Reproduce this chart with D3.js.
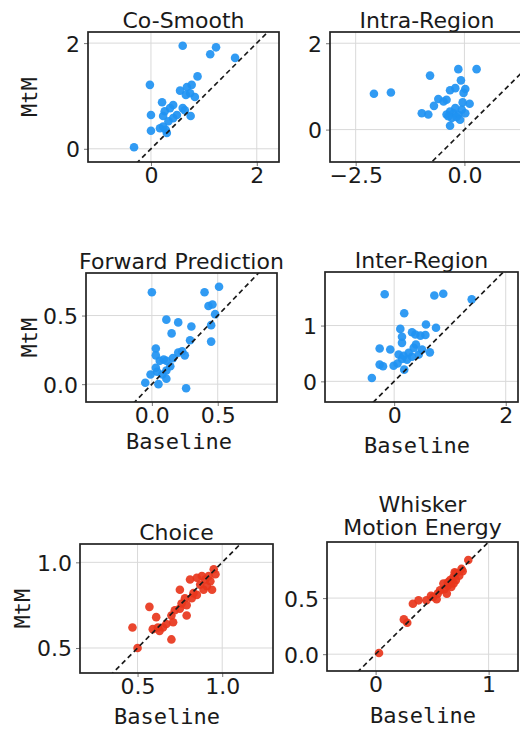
<!DOCTYPE html>
<html>
<head>
<meta charset="utf-8">
<script src="https://cdn.jsdelivr.net/npm/d3@7"></script>
<style>
  body { margin: 0; background: #fff; }
  svg text { fill: #1a1a1a; }
</style>
</head>
<body>
<div id="chart"></div>
<script>
// ---- data ----
const coSmoothBaseline = [0.60, 1.23, 1.12, 1.59, -0.02, 0.88, 0.55, 0.68, 0.77, 0.74, 0.83, 0.66, 0.21, 0.42, 0.36, 0.26, 0.00, 0.23, 0.60, 0.64, 0.75, 0.49, 0.42, 0.33, 0.23, 0.17, 0.28, 0.00, 0.30, -0.32];
const coSmoothMtM      = [1.95, 1.92, 1.79, 1.72, 1.21, 1.37, 1.10, 1.17, 1.21, 1.05, 0.98, 1.02, 0.88, 0.83, 0.77, 0.71, 0.64, 0.62, 0.77, 0.73, 0.62, 0.64, 0.58, 0.52, 0.42, 0.39, 0.36, 0.34, 0.30, 0.03];

const intraBaseline = [-2.08, -1.69, -0.79, -0.14, 0.28, -0.08, -0.21, -0.33, 0.02, -0.02, -0.60, -0.48, -0.70, -0.41, -0.04, 0.12, -0.98, -0.83, -0.33, -0.41, -0.25, -0.14, -0.06, 0.02, -0.29, -0.18, -0.10, -0.33, -0.37, -0.21];
const intraMtM      = [0.83, 0.86, 1.25, 1.40, 1.40, 1.14, 0.96, 0.91, 0.94, 0.85, 0.71, 0.65, 0.55, 0.69, 0.63, 0.60, 0.38, 0.35, 0.42, 0.35, 0.38, 0.35, 0.46, 0.38, 0.27, 0.29, 0.23, 0.09, 0.31, 0.50];

const forwardBaseline = [0.00, 0.40, 0.51, 0.43, 0.46, 0.48, 0.45, 0.45, 0.11, 0.20, 0.30, 0.15, 0.29, 0.03, 0.03, 0.06, 0.09, 0.11, 0.16, 0.20, 0.23, 0.25, 0.03, 0.04, 0.11, 0.14, -0.01, -0.05, 0.05, 0.11, 0.26, 0.08];
const forwardMtM      = [0.67, 0.67, 0.71, 0.57, 0.58, 0.51, 0.43, 0.31, 0.47, 0.45, 0.42, 0.37, 0.32, 0.26, 0.21, 0.17, 0.18, 0.17, 0.19, 0.23, 0.24, 0.21, 0.12, 0.09, 0.10, 0.13, 0.07, 0.01, 0.00, 0.04, -0.03, 0.07];

const interBaseline = [-0.17, 0.72, 0.88, 1.39, 0.18, 0.57, 0.75, 0.11, 0.32, 0.38, 0.47, 0.56, 0.14, 0.14, 0.39, -0.26, -0.07, 0.50, 0.64, 0.08, 0.17, 0.26, 0.32, 0.23, 0.14, 0.06, -0.01, -0.26, -0.20, 0.18, -0.40, 0.35, 0.44];
const interMtM      = [1.56, 1.54, 1.57, 1.47, 1.22, 1.02, 0.96, 0.94, 0.88, 0.84, 0.82, 0.83, 0.80, 0.69, 0.66, 0.59, 0.57, 0.57, 0.52, 0.48, 0.46, 0.51, 0.44, 0.39, 0.40, 0.32, 0.28, 0.30, 0.27, 0.21, 0.06, 0.60, 0.48];

const choiceBaseline = [0.50, 0.70, 0.47, 0.57, 0.61, 0.59, 0.62, 0.65, 0.63, 0.71, 0.70, 0.72, 0.75, 0.75, 0.79, 0.76, 0.79, 0.82, 0.85, 0.81, 0.85, 0.88, 0.90, 0.87, 0.91, 0.93, 0.95, 0.96, 0.94, 0.89, 0.78, 0.67, 0.83, 0.92];
const choiceMtM      = [0.50, 0.55, 0.62, 0.74, 0.68, 0.61, 0.62, 0.62, 0.60, 0.65, 0.69, 0.72, 0.73, 0.84, 0.69, 0.76, 0.75, 0.79, 0.81, 0.90, 0.91, 0.92, 0.90, 0.87, 0.86, 0.89, 0.96, 0.93, 0.84, 0.84, 0.79, 0.64, 0.82, 0.92];

const whiskerBaseline = [0.03, 0.25, 0.28, 0.33, 0.38, 0.45, 0.51, 0.55, 0.57, 0.61, 0.64, 0.66, 0.69, 0.71, 0.76, 0.82, 0.63, 0.67, 0.71, 0.74, 0.54, 0.49, 0.60, 0.64, 0.70, 0.77, 0.69];
const whiskerMtM      = [0.01, 0.31, 0.28, 0.45, 0.48, 0.48, 0.51, 0.54, 0.57, 0.58, 0.61, 0.66, 0.69, 0.72, 0.76, 0.84, 0.54, 0.60, 0.66, 0.70, 0.49, 0.52, 0.63, 0.64, 0.73, 0.74, 0.63];

const titles = [["Co-Smooth"], ["Intra-Region"], ["Forward Prediction"], ["Inter-Region"], ["Choice"], ["Whisker", "Motion Energy"]];
const xTicks = [[0, 2], [-2.5, 0], [0, 0.5], [0, 2], [0.5, 1], [0, 1]];
const yTicks = [[0, 2], [0, 2], [0, 0.5], [0, 1], [0.5, 1], [0, 0.5]];
const xDomains = [[-1.19, 2.42], [-3.09, 1.37], [-0.50, 0.95], [-1.24, 2.22], [0.16, 1.30], [-0.43, 1.26]];
const yDomains = [[-0.25, 2.21], [-0.75, 2.26], [-0.13, 0.81], [-0.37, 1.96], [0.354, 1.107], [-0.15, 1.0]];

const blue = "#2092f2", red = "#e8361c";

// ---- layout ----
const panels = [
  { x: coSmoothBaseline, y: coSmoothMtM, color: blue, box: [88, 32, 191, 130], fmt: d3.format("d"),   ylab: true, xlab: null },
  { x: intraBaseline,    y: intraMtM,    color: blue, box: [330, 32, 194, 130], fmt: d3.format(".1f"), yfmt: d3.format("d"), ylab: false, xlab: null },
  { x: forwardBaseline,  y: forwardMtM,  color: blue, box: [86, 273, 191, 129], fmt: d3.format(".1f"), ylab: true, xlab: [179, 449] },
  { x: interBaseline,    y: interMtM,    color: blue, box: [325, 272, 193, 130], fmt: d3.format("d"),   ylab: false, xlab: [417, 453] },
  { x: choiceBaseline,   y: choiceMtM,   color: red,  box: [80, 544, 193, 129],  fmt: d3.format(".1f"), ylab: true, xlab: [167, 724] },
  { x: whiskerBaseline,  y: whiskerMtM,  color: red,  box: [327, 542, 191, 129], fmt: d3.format("d"),   yfmt: d3.format(".1f"), ylab: false, xlab: [423, 723] }
];

const width = 520, height = 731;
const svg = d3.select("#chart").append("svg")
  .attr("width", width).attr("height", height)
  .style("font-family", "'DejaVu Sans', sans-serif");

panels.forEach((p, i) => {
  const [bx, by, bw, bh] = p.box;
  const xs = d3.scaleLinear().domain(xDomains[i]).range([bx, bx + bw]);
  const ys = d3.scaleLinear().domain(yDomains[i]).range([by + bh, by]);
  const g = svg.append("g");

  const clipId = "clip" + i;
  g.append("clipPath").attr("id", clipId)
    .append("rect").attr("x", bx).attr("y", by).attr("width", bw).attr("height", bh);

  // grid
  const grid = g.append("g").attr("clip-path", `url(#${clipId})`);
  grid.selectAll("line.gx").data(xTicks[i]).enter().append("line")
    .attr("x1", d => xs(d)).attr("x2", d => xs(d))
    .attr("y1", by).attr("y2", by + bh)
    .attr("stroke", "#d9d9d9").attr("stroke-width", 1);
  grid.selectAll("line.gy").data(yTicks[i]).enter().append("line")
    .attr("y1", d => ys(d)).attr("y2", d => ys(d))
    .attr("x1", bx).attr("x2", bx + bw)
    .attr("stroke", "#d9d9d9").attr("stroke-width", 1);

  // points
  const pts = p.x.map((v, k) => [v, p.y[k]]);
  grid.selectAll("circle").data(pts).enter().append("circle")
    .attr("cx", d => xs(d[0])).attr("cy", d => ys(d[1]))
    .attr("r", 4.3).attr("fill", p.color).attr("fill-opacity", 0.92);

  // identity line
  const lo = Math.min(xDomains[i][0], yDomains[i][0]);
  const hi = Math.max(xDomains[i][1], yDomains[i][1]);
  grid.append("line")
    .attr("x1", xs(lo)).attr("y1", ys(lo)).attr("x2", xs(hi)).attr("y2", ys(hi))
    .attr("stroke", "#1a1a1a").attr("stroke-width", 1.7).attr("stroke-dasharray", "5,3.5");

  // axes
  const xAxis = d3.axisBottom(xs).tickValues(xTicks[i]).tickFormat(p.fmt).tickSize(4).tickPadding(1);
  const yAxis = d3.axisLeft(ys).tickValues(yTicks[i]).tickFormat(p.yfmt || p.fmt).tickSize(4).tickPadding(4);
  const ax = g.append("g").attr("transform", `translate(0,${by + bh})`).call(xAxis);
  const ay = g.append("g").attr("transform", `translate(${bx},0)`).call(yAxis);
  [ax, ay].forEach(a => {
    a.select(".domain").remove();
    a.selectAll(".tick line").attr("stroke", "#777");
    a.selectAll("text").attr("font-size", 22).attr("font-family", "'DejaVu Sans', sans-serif").attr("fill", "#1a1a1a");
  });
  ax.selectAll("text").attr("dy", "0.72em");
  ay.selectAll("text").attr("dy", "0.36em");

  // frame
  g.append("rect").attr("x", bx).attr("y", by).attr("width", bw).attr("height", bh)
    .attr("fill", "none").attr("stroke", "#222").attr("stroke-width", 1.7);

  // title
  const lines = titles[i];
  lines.forEach((t, k) => {
    const off = lines.length > 1 ? 7 + (lines.length - 1 - k) * 23 : 4;
    g.append("text")
      .attr("x", bx + bw / 2)
      .attr("y", by - off)
      .attr("text-anchor", "middle")
      .attr("font-size", 22)
      .text(t);
  });

  // axis labels
  if (p.ylab) {
    const cx = i === 4 ? 22 : 29;
    g.append("text")
      .attr("transform", `translate(${cx},${by + bh / 2}) rotate(-90)`)
      .attr("text-anchor", "middle").attr("dy", "0.35em")
      .attr("font-family", "'DejaVu Sans Mono', monospace")
      .attr("font-size", 22)
      .text("MtM");
  }
  if (p.xlab) {
    g.append("text")
      .attr("x", p.xlab[0]).attr("y", p.xlab[1])
      .attr("text-anchor", "middle")
      .attr("font-family", "'DejaVu Sans Mono', monospace")
      .attr("font-size", 22)
      .text("Baseline");
  }
});
</script>
</body>
</html>
